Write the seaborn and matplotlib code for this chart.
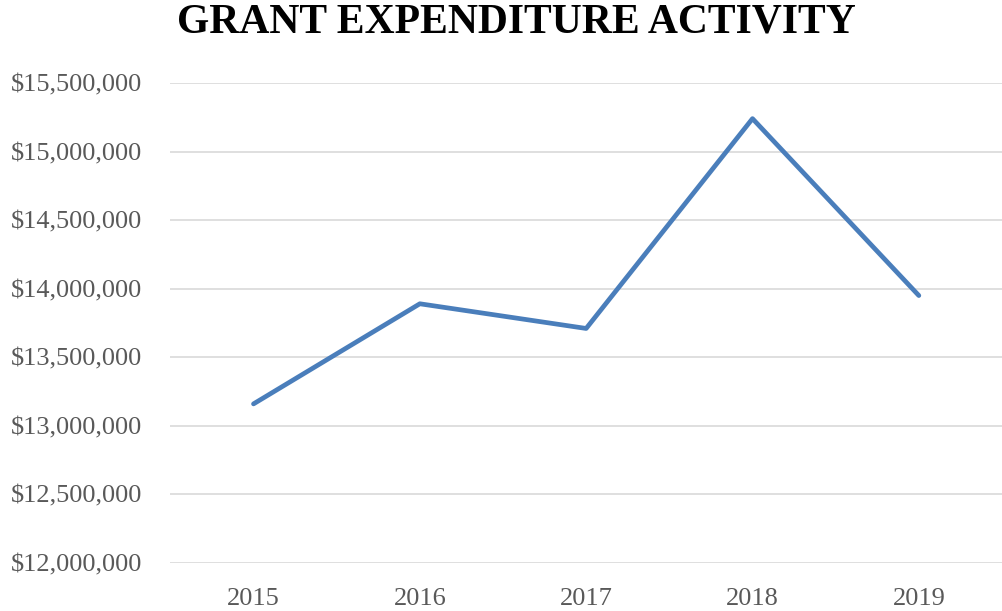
import matplotlib
matplotlib.use("Agg")
import matplotlib.pyplot as plt
import seaborn as sns
import pandas as pd
from matplotlib.ticker import FuncFormatter, MultipleLocator

# values
years = ["2015", "2016", "2017", "2018", "2019"]
expenditure = [13160000, 13890000, 13710000, 15240000, 13950000]

data = pd.DataFrame({"year": years, "amount": expenditure})

sns.set_style("white")
plt.rcParams["font.family"] = ["Liberation Serif", "DejaVu Serif"]

fig = plt.figure(figsize=(10.02, 6.11), dpi=100)
ax = fig.add_axes([0.170, 0.0786, 0.830, 0.7856])

sns.lineplot(data=data, x="year", y="amount", ax=ax, color="#4a7ebb",
             linewidth=3.4, sort=False)

ax.set_xlim(-0.5, 4.5)
ax.set_ylim(12000000, 15500000)
ax.yaxis.set_major_locator(MultipleLocator(500000))
ax.yaxis.set_major_formatter(FuncFormatter(lambda v, p: f"${v:,.0f}"))
ax.grid(axis="y", color="#d9d9d9", linewidth=1.2)
ax.set_axisbelow(True)
for s in ax.spines.values():
    s.set_visible(False)
ax.tick_params(axis="both", length=0, labelsize=19, labelcolor="#595959")
ax.tick_params(axis="y", pad=20)
ax.tick_params(axis="x", pad=18)
ax.set_xlabel("")
ax.set_ylabel("")

fig.text(0.515, 0.963, "GRANT EXPENDITURE ACTIVITY", ha="center", va="center",
         fontsize=30, fontweight="bold", color="black")

fig.savefig("out.png", dpi=100)
